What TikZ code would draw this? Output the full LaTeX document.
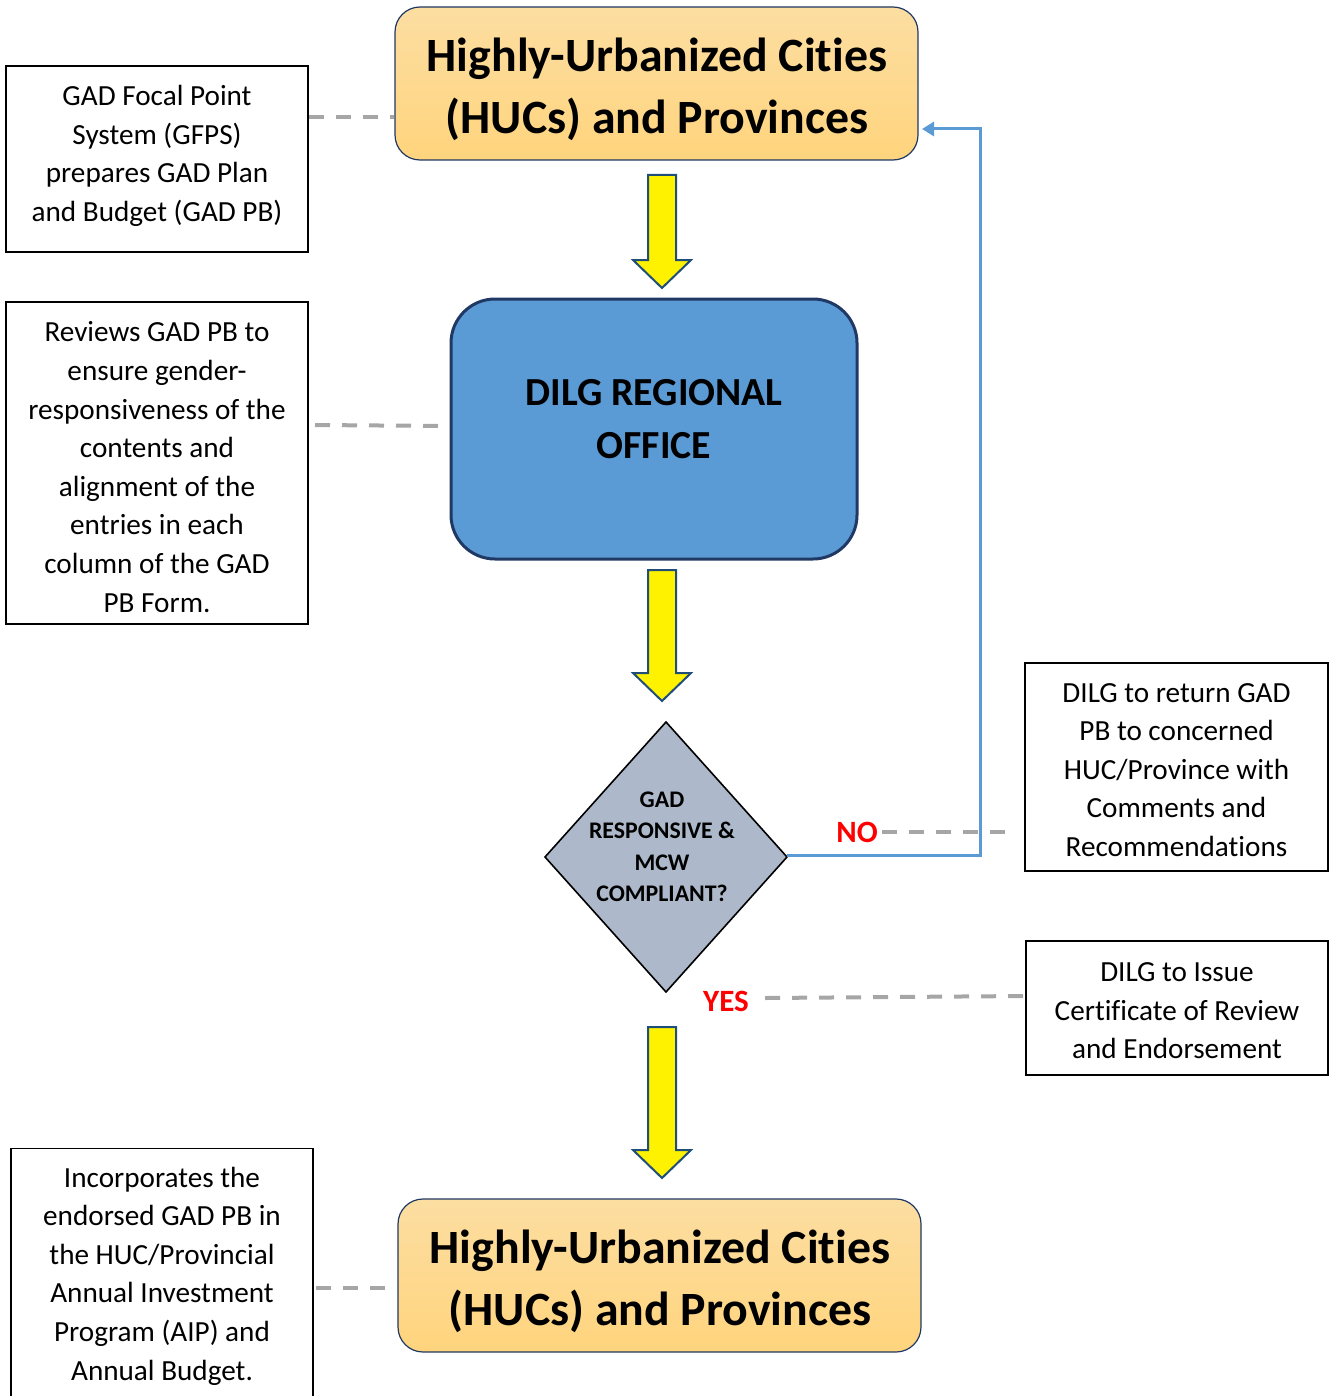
\documentclass[tikz,border=0pt]{standalone}
\usepackage{fontspec}
\setmainfont{Carlito}[Ligatures=NoCommon]
\usetikzlibrary{arrows.meta,calc}
\definecolor{navy}{RGB}{31,56,100}
\definecolor{arrowedge}{RGB}{31,78,121}
\definecolor{dilgblue}{RGB}{91,155,213}
\definecolor{diagray}{RGB}{173,185,202}
\definecolor{dashgray}{RGB}{166,166,166}
\definecolor{orangetop}{RGB}{252,222,162}
\definecolor{orangebot}{RGB}{255,212,125}
\definecolor{nored}{RGB}{255,0,0}
\tikzset{
  hucbox/.style={draw=navy,line width=0.6pt,rounded corners=12.5pt,top color=orangetop,bottom color=orangebot,
    minimum width=261.5pt,minimum height=76.5pt,inner sep=0pt},
  huctext/.style={align=center,inner sep=0pt,font=\fontsize{23.9}{31}\selectfont\bfseries},
  notebox/.style={draw=black,line width=0.6pt,fill=white,align=center,inner sep=0pt,
    font=\fontsize{14.6}{19.3}\selectfont},
  notetext/.style={align=center,inner sep=0pt,font=\fontsize{14.6}{19.3}\selectfont},
  fatarr/.style={draw=arrowedge,line width=1pt,fill=yellow,line join=miter},
  dashcon/.style={draw=dashgray,line width=2pt,dash pattern=on 7.5pt off 6pt},
  retcon/.style={draw=dilgblue,line width=1.5pt,-{Triangle[length=6pt,width=7pt]}},
  answer/.style={text=nored,font=\fontsize{15.5}{18}\selectfont\bfseries,inner sep=0pt}
}
\newcommand\fatarrow[2]{%
  \draw[fatarr] let \p1=(#1), \p2=(#2) in
   (\x1-7pt,\y1) -- (\x1+7pt,\y1) -- (\x1+7pt,\y2+14pt) -- (\x1+14.5pt,\y2+14pt)
   -- (\x1,\y2) -- (\x1-14.5pt,\y2+14pt) -- (\x1-7pt,\y2+14pt) -- cycle;}
\begin{document}
\begin{tikzpicture}[x=0.5pt,y=-0.5pt]
\useasboundingbox (0,0) rectangle (1331,1396);
% main flow
\node[hucbox] (top) at (656.5,83.5) {};
\node[huctext] (toptext) at (657,89) {Highly-Urbanized Cities\\(HUCs) and Provinces};
\node[draw=navy,line width=1.5pt,fill=dilgblue,rounded corners=22pt,minimum width=203pt,minimum height=130pt,
      inner sep=0pt] (dilg) at (654,429) {};
\node[align=center,inner sep=0pt,font=\fontsize{19.9}{26.5}\selectfont\bfseries] (dilgtext) at (654,419)
      {DILG REGIONAL\\OFFICE};
\path[draw=black,line width=0.8pt,fill=diagray] (545,857) -- (666,722) -- (787,857) -- (666,992) -- cycle;
\coordinate (dia) at (666,857);
\coordinate (diaE) at (787,855);
\node[align=center,inner sep=0pt,font=\fontsize{11.9}{15.75}\selectfont\bfseries] (diatext) at (662,847)
      {GAD\\RESPONSIVE \&\\MCW\\COMPLIANT?};
\node[hucbox] (bot) at (659.5,1275.5) {};
\node[huctext] (bottext) at (660,1281) {Highly-Urbanized Cities\\(HUCs) and Provinces};
% fat arrows
\coordinate (a1s) at (662,175); \coordinate (a1e) at (662,288);
\coordinate (a2s) at (662,570); \coordinate (a2e) at (662,701);
\coordinate (a3s) at (662,1027); \coordinate (a3e) at (662,1178);
\fatarrow{a1s}{a1e}
\fatarrow{a2s}{a2e}
\fatarrow{a3s}{a3e}
% note boxes
\node[notebox,minimum width=151pt,minimum height=93pt] (n1) at (157,159) {};
\node[notetext] (n1t) at (157,156)
  {GAD Focal Point\\System (GFPS)\\prepares GAD Plan\\and Budget (GAD PB)};
\node[notebox,minimum width=151pt,minimum height=161pt] (n2) at (157,463) {};
\node[notetext] (n2t) at (157,467)
  {Reviews GAD PB to\\ensure gender-\\responsiveness of the\\contents and\\alignment of the\\entries in each\\column of the GAD\\PB Form.};
\node[notebox,minimum width=151pt,minimum height=130pt,anchor=north] (n3) at (162,1148) {};
\node[notetext] (n3t) at (162,1276)
  {Incorporates the\\endorsed GAD PB in\\the HUC/Provincial\\Annual Investment\\Program (AIP) and\\Annual Budget.};
\node[notebox,minimum width=151.5pt,minimum height=104pt] (n4) at (1176.5,767) {};
\node[notetext] (n4t) at (1176.5,770)
  {DILG to return GAD\\PB to concerned\\HUC/Province with\\Comments and\\Recommendations};
\node[notebox,minimum width=151pt,minimum height=67pt] (n5) at (1177,1008) {};
\node[notetext] (n5t) at (1177,1011)
  {DILG to Issue\\Certificate of Review\\and Endorsement};
% answers
\node[answer] (no) at (857,832) {NO};
\node[answer] (yes) at (726,1001) {YES};
% dashed links
\coordinate (d2s) at (315,425); \coordinate (d2e) at (444,426);
\coordinate (d4e) at (1012,832);
\coordinate (d5s) at (765,998);
\coordinate (d3s) at (316,1288); \coordinate (d3e) at (390,1288);
\draw[dashcon] (n1.east |- 0,117) -- (top.west |- 0,117);
\draw[dashcon] (d2s) -- (d2e);
\draw[dashcon] (no.east) ++(4,0) -- (d4e);
\draw[dashcon] (d5s) -- (n5.west |- 0,996);
\draw[dashcon] (d3s) -- (d3e);
% return connector
\coordinate (ret) at (922,129);
\draw[retcon] (diaE) -- (980,855) |- (ret);
\end{tikzpicture}
\end{document}
